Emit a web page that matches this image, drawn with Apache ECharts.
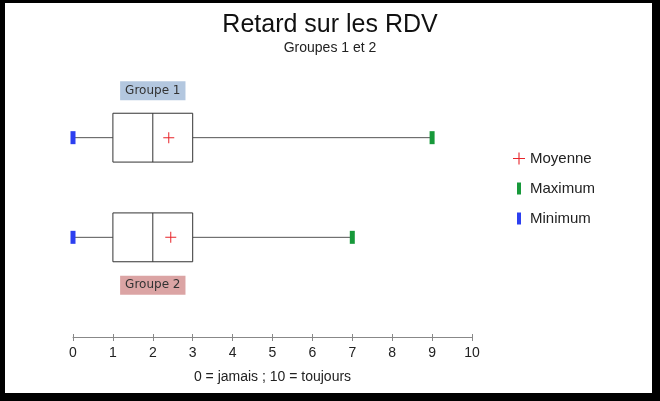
<!DOCTYPE html>
<html>
<head>
<meta charset="utf-8">
<script src="https://cdn.jsdelivr.net/npm/echarts@6/dist/echarts.min.js"></script>
<style>
    html, body { margin: 0; padding: 0; background: #fff; }
    #frame {
        position: absolute; left: 0; top: 0;
        width: 660px; height: 401px; box-sizing: border-box;
        border-left: 5px solid #000; border-top: 3px solid #000;
        border-right: 8px solid #000; border-bottom: 8px solid #000;
    }
    #chart { position: absolute; left: 0; top: 0; width: 660px; height: 401px; }
</style>
</head>
<body>
<div id="frame"></div>
<div id="chart"></div>
<script>
    // valeurs
    var groupNames = ['Groupe 1', 'Groupe 2'];
    var groupPos = [1, 2];
    var minValues = [0, 0];
    var q1Values = [1, 1];
    var medianValues = [2, 2];
    var q3Values = [3, 3];
    var maxValues = [9, 7];
    var meanValues = [2.4, 2.45];
    var xTicks = [0, 1, 2, 3, 4, 5, 6, 7, 8, 9, 10];
    var labelColors = ['#b3c7df', '#dba4a4'];

    var boxData = [];
    var minData = [];
    var maxData = [];
    var meanData = [];
    for (var i = 0; i < groupNames.length; i++) {
        boxData.push([groupPos[i], minValues[i], q1Values[i], medianValues[i], q3Values[i], maxValues[i], i]);
        minData.push([minValues[i], groupPos[i]]);
        maxData.push([maxValues[i], groupPos[i]]);
        meanData.push([meanValues[i], groupPos[i]]);
    }

    var plusPath = 'path://M5,0h1v5h5v1h-5v5h-1v-5h-5v-1h5z';

    function renderBox(params, api) {
        var y = api.value(0);
        var idx = api.value(6);
        var pMin = api.coord([api.value(1), y]);
        var pQ1 = api.coord([api.value(2), y]);
        var pMed = api.coord([api.value(3), y]);
        var pQ3 = api.coord([api.value(4), y]);
        var pMax = api.coord([api.value(5), y]);
        var h = api.size([0, 0.49])[1];
        var cy = pMed[1];
        var labelY = idx === 0 ? cy - 47 : cy + 48;
        return {
            type: 'group',
            children: [
                {type: 'line', shape: {x1: pMin[0], y1: cy, x2: pQ1[0], y2: cy}, style: {stroke: '#555', lineWidth: 1}},
                {type: 'line', shape: {x1: pQ3[0], y1: cy, x2: pMax[0], y2: cy}, style: {stroke: '#555', lineWidth: 1}},
                {type: 'rect', shape: {x: pQ1[0], y: cy - h / 2, width: pQ3[0] - pQ1[0], height: h}, style: {fill: '#fff', stroke: '#333', lineWidth: 1}},
                {type: 'line', shape: {x1: pMed[0], y1: cy - h / 2, x2: pMed[0], y2: cy + h / 2}, style: {stroke: '#333', lineWidth: 1}},
                {type: 'text', x: pMed[0], y: labelY, style: {
                    text: groupNames[idx], align: 'center', verticalAlign: 'middle',
                    fontFamily: 'DejaVu Sans', fontSize: 12, fill: '#333',
                    backgroundColor: labelColors[idx], padding: [4, 5, 3, 5]
                }}
            ]
        };
    }

    var chart = echarts.init(document.getElementById('chart'));

    var option = {
        animation: false,
        title: {
            text: 'Retard sur les RDV',
            subtext: 'Groupes 1 et 2',
            left: 'center',
            top: 8,
            itemGap: 3,
            textStyle: {fontFamily: 'Liberation Sans', fontSize: 25, fontWeight: 'normal', color: '#111'},
            subtextStyle: {fontFamily: 'Liberation Sans', fontSize: 14, color: '#222'}
        },
        legend: {
            orient: 'vertical',
            left: 508,
            top: 146,
            itemWidth: 12,
            itemHeight: 12,
            itemGap: 15,
            textStyle: {fontFamily: 'Liberation Sans', fontSize: 15, color: '#222'},
            data: [
                {name: 'Moyenne', icon: plusPath},
                {name: 'Maximum', icon: 'path://M0,0h4v12h-4z'},
                {name: 'Minimum', icon: 'path://M0,0h4v12h-4z'}
            ]
        },
        grid: {left: 73, right: 188, top: 38, bottom: 64},
        xAxis: [{
            type: 'value',
            min: 0,
            max: 10,
            interval: 1,
            position: 'bottom',
            splitLine: {show: false},
            axisLine: {onZero: false, lineStyle: {color: '#888'}},
            axisTick: {length: 4, lineStyle: {color: '#888'}},
            axisLabel: {
                margin: 9, fontFamily: 'Liberation Sans', fontSize: 14, color: '#222',
                formatter: function (v) { return xTicks.indexOf(v) >= 0 ? String(v) : ''; }
            },
            name: '0 = jamais ; 10 = toujours',
            nameLocation: 'middle',
            nameGap: 33,
            nameTextStyle: {fontFamily: 'Liberation Sans', fontSize: 14, color: '#222'}
        }, {
            // même axe, juste pour les graduations vers le haut
            type: 'value',
            min: 0,
            max: 10,
            interval: 1,
            position: 'top',
            offset: -299,
            splitLine: {show: false},
            axisLine: {show: false, onZero: false},
            axisTick: {length: 3, lineStyle: {color: '#888'}},
            axisLabel: {show: false}
        }],
        yAxis: {
            type: 'value',
            min: 0,
            max: 3,
            inverse: true,
            show: false
        },
        series: [
            {
                name: 'boites',
                type: 'custom',
                renderItem: renderBox,
                encode: {x: [1, 2, 3, 4, 5], y: 0},
                data: boxData,
                z: 1
            },
            {
                name: 'Minimum',
                type: 'scatter',
                symbol: 'rect',
                symbolSize: [5, 13],
                itemStyle: {color: '#2c3ff0', opacity: 1},
                data: minData,
                z: 3
            },
            {
                name: 'Maximum',
                type: 'scatter',
                symbol: 'rect',
                symbolSize: [5, 13],
                itemStyle: {color: '#17993a', opacity: 1},
                data: maxData,
                z: 3
            },
            {
                name: 'Moyenne',
                type: 'scatter',
                symbol: plusPath,
                symbolSize: 11,
                itemStyle: {color: '#e8242a', opacity: 1},
                data: meanData,
                z: 3
            }
        ]
    };

    chart.setOption(option);
</script>
</body>
</html>
